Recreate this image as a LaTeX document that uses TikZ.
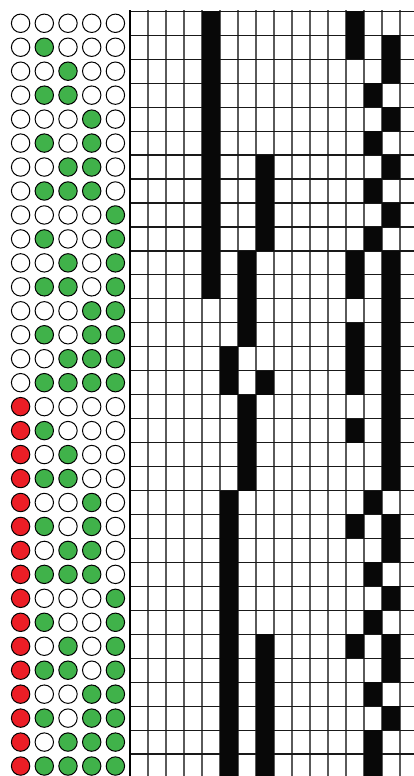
\documentclass[tikz,border=0pt]{standalone}
\usepackage{tikz}
\definecolor{dotgreen}{RGB}{64,178,74}
\definecolor{dotred}{RGB}{236,30,38}
\definecolor{linegray}{RGB}{90,90,90}
\newcommand{\gridx}{130}
\newcommand{\gridy}{11.3}
\newcommand{\cellw}{18}
\newcommand{\cellh}{23.96}

\begin{document}
\begin{tikzpicture}[x=1pt, y=-1pt,
  dot/.style={draw=black, line width=1pt},
  colline/.style={linegray, line width=1.8pt},
  rowline/.style={black!90, line width=1.2pt},
  cellfill/.style={fill=black!97}]
  \useasboundingbox (0,0) rectangle (414,776);
  \fill[white] (0,0) rectangle (414,776);
  \clip (0,0) rectangle (414,776);

  % counting dots, one row per value 0..31
  \foreach \i in {0,...,31} {
    \pgfmathsetmacro{\cy}{\gridy+\cellh*(\i+0.5)}
    \ifnum\i>15 \def\tint{dotred}\else\def\tint{white}\fi
    \draw[dot, fill=\tint] (20.6,\cy) circle[radius=9.2pt];
    \foreach \k in {1,...,4} {
      \pgfmathtruncatemacro{\bit}{mod(floor(\i/pow(2,\k-1)),2)}
      \ifnum\bit=1 \def\tint{dotgreen}\else\def\tint{white}\fi
      \draw[dot, fill=\tint] ({20.6+23.7*\k},\cy) circle[radius=9.2pt];
    }
  }

  % grid lines
  \foreach \c in {1,...,16}
    \draw[colline] ({\gridx+\cellw*\c},10.4) -- ({\gridx+\cellw*\c},780);
  \foreach \r in {0,...,32}
    \draw[rowline] (129,{\gridy+\cellh*\r}) -- (420,{\gridy+\cellh*\r});
  \draw[black, line width=2pt] (\gridx,10.4) -- (\gridx,780);

  % filled cells: row/columns
  \foreach \r/\cols in {0/{4,12}, 1/{4,12,14}, 2/{4,14}, 3/{4,13},
      4/{4,14}, 5/{4,13}, 6/{4,7,14}, 7/{4,7,13},
      8/{4,7,14}, 9/{4,7,13}, 10/{4,6,12,14}, 11/{4,6,12,14},
      12/{6,14}, 13/{6,12,14}, 14/{5,12,14}, 15/{5,7,12,14},
      16/{6,14}, 17/{6,12,14}, 18/{6,14}, 19/{6,14},
      20/{5,13}, 21/{5,12,14}, 22/{5,14}, 23/{5,13},
      24/{5,14}, 25/{5,13}, 26/{5,7,12,14}, 27/{5,7,14},
      28/{5,7,13}, 29/{5,7,14}, 30/{5,7,13}, 31/{5,7,13}}
    \foreach \c in \cols
      \fill[cellfill] ({\gridx+\cellw*\c},{\gridy+\cellh*\r})
        rectangle ++(\cellw,\cellh);
\end{tikzpicture}
\end{document}
